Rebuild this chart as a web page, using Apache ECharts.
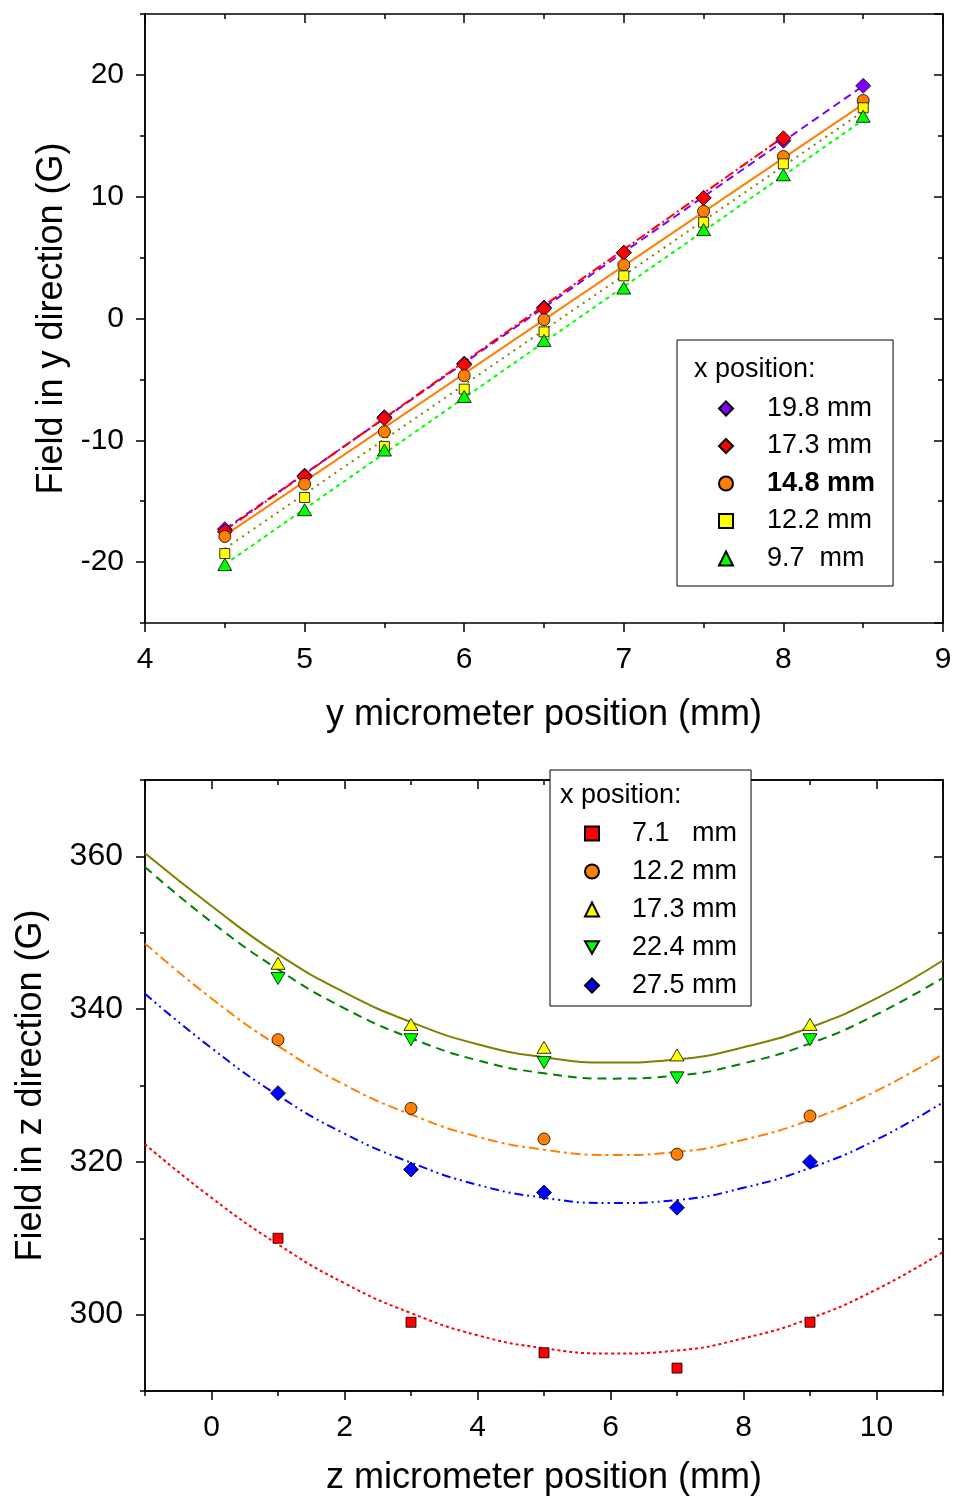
<!DOCTYPE html>
<html><head><meta charset="utf-8">
<script src="https://cdn.jsdelivr.net/npm/echarts@6/dist/echarts.min.js"></script>
<style>html,body{margin:0;padding:0;background:#fff}#chartTop{width:954px;height:745px}#chartBot{width:954px;height:753px}</style>
</head><body><div id="chartTop"></div><div id="chartBot"></div>
<script>
const FONT = '"Liberation Sans", Arial, Helvetica, sans-serif';

// ---------- Top chart data ----------
const yMicrometer = [4.5, 5, 5.5, 6, 6.5, 7, 7.5, 8, 8.5];
const field_19_8 = [-17.3, -12.9, -8.1, -3.7, 0.9, 5.4, 9.9, 14.6, 19.1];
const field_17_3 = [-17.5, -13.0, -8.2, -3.8, 0.8, 5.4, 9.9, 14.8];
const field_14_8 = [-17.9, -13.6, -9.3, -4.7, -0.1, 4.4, 8.8, 13.3, 17.9];
const field_12_2 = [-19.3, -14.7, -10.5, -5.8, -1.1, 3.5, 7.9, 12.7, 17.3];
const field_9_7  = [-20.2, -15.7, -10.8, -6.4, -1.8, 2.5, 7.3, 11.8, 16.6];
// linear fit endpoints
const fitX_top = [4.5, 8.5];
const fitX_173 = [4.5, 8];
const fit_19_8 = [-17.3, 19.1];
const fit_17_3 = [-17.4, 14.9];
const fit_14_8 = [-17.8, 17.6];
const fit_12_2 = [-18.9, 17.0];
const fit_9_7  = [-20.2, 16.3];
const topNames = ['19.8 mm', '17.3 mm', '14.8 mm', '12.2 mm', '9.7  mm'];

// ---------- Bottom chart data ----------
const zMicrometer = [1, 3, 5, 7, 9];
const zField_7_1  = [310, 299, 295, 293, 299];
const zField_12_2 = [336, 327, 323, 321, 326];
const zField_17_3 = [346, 338, 335, 334, 338];
const zField_22_4 = [344, 336, 333, 331, 336];
const zField_27_5 = [329, 319, 316, 314, 320];
// fitted curves (x = -1 … 11)
const curveX = [-1, 0, 1, 2, 3, 4, 5, 6, 7, 8, 9, 10, 11];
const curve_7_1  = [322.3, 315.3, 309.2, 304.1, 300.2, 297.3, 295.6, 294.9, 295.3, 296.9, 299.5, 303.3, 308.2];
const curve_12_2 = [348.6, 341.4, 335.2, 330.1, 326.2, 323.3, 321.6, 320.9, 321.3, 322.9, 325.5, 329.3, 334.1];
const curve_17_3 = [360.4, 353.5, 347.2, 342.2, 338.3, 335.4, 333.7, 333.0, 333.4, 335.0, 337.6, 341.4, 346.4];
const curve_22_4 = [358.6, 351.4, 345.2, 340.1, 336.2, 333.3, 331.6, 330.9, 331.3, 332.9, 335.5, 339.3, 344.1];
const curve_27_5 = [342.0, 334.9, 328.7, 323.7, 319.9, 317.0, 315.3, 314.6, 315.0, 316.6, 319.2, 322.9, 327.8];
const botNames = ['7.1   mm', '12.2 mm', '17.3 mm', '22.4 mm', '27.5 mm'];

const pairs = (xs, ys) => ys.map((v, i) => [xs[i], v]);
const DOWN_TRI = 'path://M0,0 L10,0 L5,9 Z';

function axisCommon(extra) {
  return Object.assign({
    type: 'value',
    axisLine: { show: true, onZero: false, lineStyle: { color: '#000', width: 1.5 } },
    axisTick: { show: true, length: 9, lineStyle: { color: '#000', width: 1.5 } },
    axisLabel: { show: false },
    splitLine: { show: false },
    minorSplitLine: { show: false }
  }, extra);
}
const labelStyle = { show: true, fontSize: 30, color: '#000', fontFamily: FONT };
const nameStyle = { fontSize: 36, color: '#000', fontFamily: FONT };

function scatter(name, data, symbol, size, color) {
  return { type: 'scatter', name, data, symbol, symbolSize: size, z: 5,
    itemStyle: { color, borderColor: '#000', borderWidth: 0.8, opacity: 1 } };
}
function fit(data, color, type, width, smooth) {
  return { type: 'line', data, showSymbol: false, symbol: 'none', silent: true, z: 3,
    smooth: smooth || false,
    lineStyle: { color, type, width: width || 2 } };
}

// ---------------- TOP ----------------
const chartTop = echarts.init(document.getElementById('chartTop'), null, { renderer: 'canvas' });
chartTop.setOption({
  animation: false,
  backgroundColor: '#fff',
  grid: { left: 145, right: 11, top: 14, bottom: 122, containLabel: false, outerBoundsMode: 'none' },
  xAxis: [
    axisCommon({ min: 4, max: 9, interval: 1, position: 'bottom',
      minorTick: { show: true, splitNumber: 2, length: 5, lineStyle: { color: '#000', width: 1.5 } },
      axisLabel: Object.assign({ margin: 22 }, labelStyle),
      name: 'y micrometer position (mm)', nameLocation: 'middle', nameGap: 74, nameTextStyle: nameStyle }),
    axisCommon({ min: 4, max: 9, interval: 1, position: 'top',
      axisTick: { show: true, inside: true, length: 9, lineStyle: { color: '#000', width: 1.5 } },
      minorTick: { show: true, splitNumber: 2, length: 5, lineStyle: { color: '#000', width: 1.5 } } })
  ],
  yAxis: [
    axisCommon({ min: -25, max: 25, splitNumber: 5, position: 'left',
      axisLabel: Object.assign({ margin: 21, showMinLabel: false, showMaxLabel: false }, labelStyle),
      name: 'Field in y direction (G)', nameLocation: 'middle', nameGap: 73, nameTextStyle: nameStyle }),
    axisCommon({ min: -25, max: 25, interval: 10, position: 'left',
      axisTick: { show: true, length: 5, lineStyle: { color: '#000', width: 1.5 } } }),
    axisCommon({ min: -25, max: 25, splitNumber: 5, position: 'right',
      axisTick: { show: true, inside: true, length: 9, lineStyle: { color: '#000', width: 1.5 } } }),
    axisCommon({ min: -25, max: 25, interval: 10, position: 'right',
      axisTick: { show: true, inside: true, length: 5, lineStyle: { color: '#000', width: 1.5 } } })
  ],
  legend: {
    orient: 'vertical', left: 677, top: 340, padding: [55, 18, 14, 41],
    itemGap: 10.5, itemWidth: 14, itemHeight: 14, selectedMode: false,
    backgroundColor: '#fff', borderColor: '#000', borderWidth: 1,
    textStyle: { fontSize: 27, color: '#000', fontFamily: FONT, padding: [0, 0, 0, 29] },
    data: [
      { name: topNames[0], icon: 'diamond' },
      { name: topNames[1], icon: 'diamond' },
      { name: topNames[2], icon: 'circle', textStyle: { fontWeight: 'bold', padding: [0, 0, 0, 29] } },
      { name: topNames[3], icon: 'rect' },
      { name: topNames[4], icon: 'triangle' }
    ]
  },
  graphic: [{ type: 'text', left: 694, top: 356, z: 100,
    style: { text: 'x position:', font: '27px ' + FONT, fill: '#000' } }],
  series: [
    fit(pairs(fitX_top, fit_19_8), '#8000ff', [8, 5]),
    fit(pairs(fitX_173, fit_17_3), '#ff0000', [10, 3, 2, 3]),
    fit(pairs(fitX_top, fit_14_8), '#ff8000', 'solid'),
    fit(pairs(fitX_top, fit_12_2), '#808000', [2, 5]),
    fit(pairs(fitX_top, fit_9_7), '#00ff00', [4, 4]),
    scatter(topNames[0], pairs(yMicrometer, field_19_8), 'diamond', 15, '#8000ff'),
    scatter(topNames[1], pairs(yMicrometer, field_17_3), 'diamond', 15, '#ff0000'),
    scatter(topNames[2], pairs(yMicrometer, field_14_8), 'circle', 12, '#ff8000'),
    scatter(topNames[3], pairs(yMicrometer, field_12_2), 'rect', 10, '#ffff00'),
    scatter(topNames[4], pairs(yMicrometer, field_9_7), 'triangle', [14, 12], '#00ff00')
  ]
});

// ---------------- BOTTOM ----------------
const chartBot = echarts.init(document.getElementById('chartBot'), null, { renderer: 'canvas' });
chartBot.setOption({
  animation: false,
  backgroundColor: '#fff',
  grid: { left: 145, right: 11, top: 35, bottom: 107, containLabel: false, outerBoundsMode: 'none' },
  xAxis: [
    axisCommon({ min: -1, max: 11, splitNumber: 6, position: 'bottom',
      axisLabel: Object.assign({ margin: 22, showMinLabel: false, showMaxLabel: false }, labelStyle),
      name: 'z micrometer position (mm)', nameLocation: 'middle', nameGap: 69, nameTextStyle: nameStyle }),
    axisCommon({ min: -1, max: 11, interval: 2, position: 'bottom',
      axisTick: { show: true, length: 5, lineStyle: { color: '#000', width: 1.5 } } }),
    axisCommon({ min: -1, max: 11, splitNumber: 6, position: 'top',
      axisTick: { show: true, inside: true, length: 9, lineStyle: { color: '#000', width: 1.5 } } }),
    axisCommon({ min: -1, max: 11, interval: 2, position: 'top',
      axisTick: { show: true, inside: true, length: 5, lineStyle: { color: '#000', width: 1.5 } } })
  ],
  yAxis: [
    axisCommon({ min: 290, max: 370, splitNumber: 4, position: 'left',
      axisLabel: Object.assign({ margin: 22, showMinLabel: false, showMaxLabel: false }, labelStyle, { fontSize: 32 }),
      name: 'Field in z direction (G)', nameLocation: 'middle', nameGap: 96, nameTextStyle: nameStyle }),
    axisCommon({ min: 290, max: 370, interval: 20, position: 'left',
      axisTick: { show: true, length: 5, lineStyle: { color: '#000', width: 1.5 } } }),
    axisCommon({ min: 290, max: 370, splitNumber: 4, position: 'right',
      axisTick: { show: true, inside: true, length: 9, lineStyle: { color: '#000', width: 1.5 } } }),
    axisCommon({ min: 290, max: 370, interval: 20, position: 'right',
      axisTick: { show: true, inside: true, length: 5, lineStyle: { color: '#000', width: 1.5 } } })
  ],
  legend: {
    orient: 'vertical', left: 550, top: 25, padding: [50, 14, 7, 34],
    itemGap: 11, itemWidth: 14, itemHeight: 14, selectedMode: false,
    backgroundColor: '#fff', borderColor: '#000', borderWidth: 1, z: 10,
    textStyle: { fontSize: 27, color: '#000', fontFamily: FONT, padding: [0, 0, 0, 28] },
    data: [
      { name: botNames[0], icon: 'rect' },
      { name: botNames[1], icon: 'circle' },
      { name: botNames[2], icon: 'triangle' },
      { name: botNames[3], icon: DOWN_TRI },
      { name: botNames[4], icon: 'diamond' }
    ]
  },
  graphic: [{ type: 'text', left: 560, top: 37, z: 100,
    style: { text: 'x position:', font: '27px ' + FONT, fill: '#000' } }],
  series: [
    fit(pairs(curveX, curve_17_3), '#808000', 'solid', 2, true),
    fit(pairs(curveX, curve_22_4), '#008000', [9, 6], 2, true),
    fit(pairs(curveX, curve_12_2), '#ff8000', [10, 4, 3, 4], 2, true),
    fit(pairs(curveX, curve_27_5), '#0000ff', [9, 4, 2, 4, 2, 4], 2, true),
    fit(pairs(curveX, curve_7_1), '#ff0000', [3, 3], 2, true),
    scatter(botNames[0], pairs(zMicrometer, zField_7_1), 'rect', 10, '#ff0000'),
    scatter(botNames[1], pairs(zMicrometer, zField_12_2), 'circle', 12, '#ff8000'),
    scatter(botNames[2], pairs(zMicrometer, zField_17_3), 'triangle', [14, 12], '#ffff00'),
    scatter(botNames[3], pairs(zMicrometer, zField_22_4), DOWN_TRI, [14, 12], '#00ff00'),
    scatter(botNames[4], pairs(zMicrometer, zField_27_5), 'diamond', 15, '#0000ff')
  ]
});
</script></body></html>
